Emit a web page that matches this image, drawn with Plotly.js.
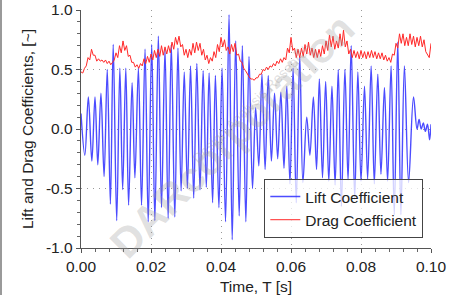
<!DOCTYPE html>
<html><head><meta charset="utf-8">
<script src="https://cdn.plot.ly/plotly-3.0.1.min.js"></script>
<style>html,body{margin:0;padding:0;background:#fff}#c{width:460px;height:295px;box-sizing:border-box;border-left:2px solid #9a9a9a}</style>
</head><body><div id="c"></div>
<script>
// Lift coefficient: peaks and troughs
const liftT = [0.0000,0.0011,0.0021,0.0031,0.0040,0.0048,0.0057,0.0066,0.0075,0.0084,0.0092,0.0102,0.0111,0.0119,0.0128,0.0136,0.0146,0.0154,0.0164,0.0173,0.0183,0.0192,0.0202,0.0211,0.0221,0.0230,0.0240,0.0249,0.0258,0.0268,0.0277,0.0286,0.0295,0.0304,0.0313,0.0322,0.0331,0.0340,0.0349,0.0358,0.0366,0.0376,0.0384,0.0394,0.0403,0.0413,0.0423,0.0432,0.0442,0.0452,0.0461,0.0471,0.0480,0.0490,0.0499,0.0508,0.0517,0.0526,0.0535,0.0544,0.0553,0.0562,0.0571,0.0580,0.0588,0.0597,0.0606,0.0615,0.0625,0.0634,0.0645,0.0654,0.0664,0.0673,0.0681,0.0690,0.0699,0.0708,0.0717,0.0726,0.0735,0.0744,0.0754,0.0763,0.0772,0.0782,0.0791,0.0800,0.0810,0.0819,0.0829,0.0838,0.0848,0.0857,0.0867,0.0876,0.0886,0.0895,0.0905,0.0914,0.0924,0.0936,0.0950,0.0960,0.0966,0.0972,0.0978,0.0984,0.0990,0.0996,0.1000];
const liftV = [0.13,-0.22,0.27,-0.27,0.27,-0.30,0.30,-0.40,0.50,-0.63,0.71,-0.77,0.51,-0.51,0.51,-0.64,0.39,-0.41,0.51,-0.64,0.67,-0.78,0.71,-0.77,0.78,-0.66,0.67,-0.75,0.71,-0.74,0.68,-0.52,0.48,-0.50,0.53,-0.58,0.55,-0.51,0.49,-0.49,0.47,-0.62,0.45,-0.66,0.51,-0.78,0.96,-0.93,0.74,-0.73,0.70,-0.78,0.61,-0.50,0.18,-0.31,0.46,-0.34,0.45,-0.27,0.30,-0.25,0.31,-0.33,0.36,-0.46,0.51,-0.62,0.61,-0.45,0.10,-0.22,0.27,-0.34,0.42,-0.41,0.40,-0.44,0.36,-0.47,0.50,-0.65,0.50,-0.43,0.70,-0.59,0.48,-0.44,0.36,-0.42,0.53,-0.46,0.46,-0.38,0.35,-0.44,0.53,-0.72,0.73,-0.72,0.53,-0.45,0.27,0.00,0.08,0.00,0.05,-0.02,0.04,-0.09,0.04];
// Drag coefficient, sampled every 0.0005 s from t = 0
const dragStart = 0, dragStep = 0.0005;
const dragV = [
0.48,0.47,0.51,0.53,0.60,0.58,0.67,0.62,0.62,0.57,
0.59,0.57,0.58,0.56,0.58,0.55,0.57,0.54,0.56,0.58,
0.64,0.60,0.70,0.64,0.74,0.66,0.70,0.61,0.62,0.56,
0.56,0.52,0.54,0.51,0.55,0.53,0.59,0.55,0.61,0.56,
0.63,0.58,0.66,0.60,0.67,0.61,0.70,0.62,0.69,0.63,
0.70,0.64,0.73,0.67,0.77,0.71,0.78,0.69,0.71,0.62,
0.67,0.60,0.67,0.62,0.72,0.64,0.73,0.66,0.72,0.62,
0.67,0.58,0.62,0.55,0.60,0.57,0.65,0.60,0.71,0.65,
0.77,0.69,0.75,0.66,0.69,0.63,0.71,0.65,0.72,0.62,
0.63,0.57,0.56,0.51,0.49,0.46,0.44,0.42,0.42,0.41,
0.43,0.43,0.46,0.46,0.50,0.49,0.52,0.50,0.53,0.52,
0.55,0.53,0.57,0.55,0.59,0.56,0.60,0.58,0.68,0.64,
0.77,0.66,0.68,0.60,0.67,0.60,0.68,0.61,0.71,0.63,
0.73,0.62,0.68,0.60,0.67,0.60,0.67,0.61,0.70,0.63,
0.74,0.66,0.79,0.69,0.78,0.67,0.74,0.68,0.80,0.70,
0.83,0.69,0.74,0.63,0.67,0.60,0.66,0.60,0.65,0.59,
0.66,0.60,0.65,0.59,0.65,0.60,0.66,0.60,0.65,0.59,
0.64,0.59,0.64,0.58,0.62,0.57,0.60,0.56,0.63,0.62,
0.72,0.68,0.80,0.72,0.80,0.70,0.77,0.70,0.80,0.71,
0.78,0.69,0.77,0.70,0.78,0.69,0.75,0.65,0.62,0.60,
0.72];
const seriesNames = ["Lift Coefficient","Drag Coefficient"];
const xTickVals = [0,0.02,0.04,0.06,0.08,0.10];
const xTickText = ["0.00","0.02","0.04","0.06","0.08","0.10"];
const yTickVals = [-1,-0.5,0,0.5,1];
const yTickText = ["-1.0","-0.5","0.0","0.5","1.0"];
const xTitle = "Time, T [s]";
const yTitle = "Lift and Drag Coefficients, [~]";

const FONT = "Liberation Sans, Arial, sans-serif";
const traces = [
  {x: liftT, y: liftV, type: "scatter", mode: "lines", name: seriesNames[0],
   line: {color: "rgba(45,45,255,0.85)", width: 1.4, shape: "spline", smoothing: 1}},
  {x0: dragStart, dx: dragStep, y: dragV, type: "scatter", mode: "lines", name: seriesNames[1],
   line: {color: "rgb(255,40,40)", width: 1}}
];
const axisCommon = {
  showline: true, linecolor: "#555", linewidth: 1.3, mirror: false,
  showgrid: true, gridcolor: "#999", gridwidth: 1, griddash: "1px,5px",
  zeroline: false, ticks: "outside", ticklen: 4, tickwidth: 1, tickcolor: "#555",
  tickfont: {family: FONT, size: 15.5, color: "#222"},
  tickmode: "array",
  minor: {ticks: "outside", ticklen: 3, tickcolor: "#666", showgrid: false}
};
const layout = {
  width: 460, height: 295,
  margin: {l: 79, r: 31, t: 10, b: 47},
  paper_bgcolor: "rgba(0,0,0,0)", plot_bgcolor: "#fff",
  font: {family: FONT, size: 15.5, color: "#222"},
  showlegend: true,
  legend: {x: 0.978, xanchor: "right", y: 0.29, yanchor: "top",
    bgcolor: "rgba(255,255,255,0.75)", bordercolor: "#444", borderwidth: 1,
    font: {family: FONT, size: 15.5, color: "#222"}, tracegroupgap: 0},
  xaxis: Object.assign({}, axisCommon, {range: [0, 0.1], tickvals: xTickVals, ticktext: xTickText,
    minor: Object.assign({}, axisCommon.minor, {dtick: 0.004, tick0: 0}),
    title: {text: xTitle, font: {family: FONT, size: 15.5, color: "#222"}, standoff: 13}}),
  yaxis: Object.assign({}, axisCommon, {range: [-1, 1], tickvals: yTickVals, ticktext: yTickText,
    minor: Object.assign({}, axisCommon.minor, {dtick: 0.1, tick0: 0}),
    title: {text: yTitle, font: {family: FONT, size: 15.5, color: "#222"}, standoff: 8}}),
  annotations: [
    {text: "<b>DARcorporation</b>", xref: "paper", yref: "paper", x: 0.43, y: 0.47,
     showarrow: false, textangle: -45, font: {family: FONT, size: 42, color: "rgba(150,150,150,0.30)"}},
    {text: "Design Analysis Research", xref: "paper", yref: "paper", x: 0.49, y: 0.33,
     showarrow: false, textangle: -45, font: {family: FONT, size: 14, color: "rgba(150,150,150,0.30)"}}
  ]
};
Plotly.newPlot("c", traces, layout, {staticPlot: true, displayModeBar: false});
</script></body></html>
